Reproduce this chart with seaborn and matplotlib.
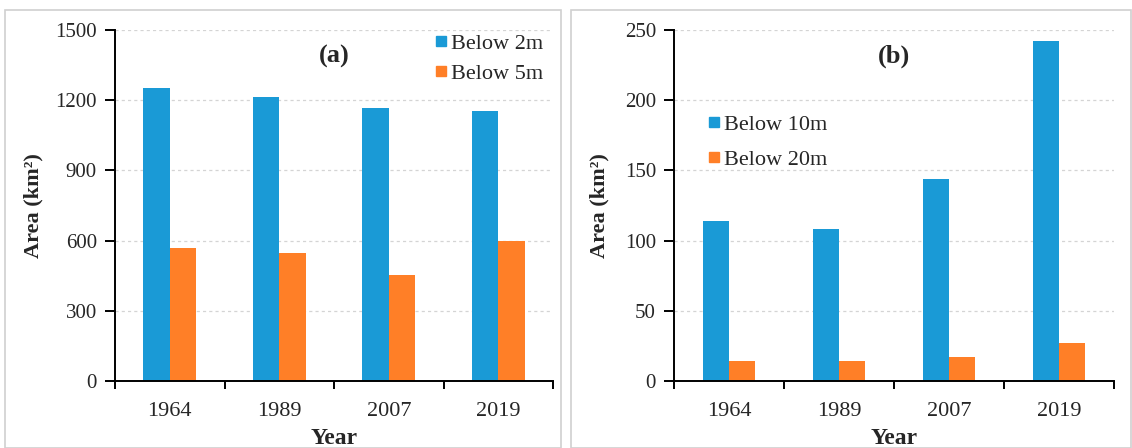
import matplotlib
matplotlib.use("Agg")
import matplotlib.pyplot as plt
import seaborn as sns
import pandas as pd
from matplotlib.patches import Rectangle
from matplotlib.lines import Line2D

# data
years = ["1964", "1989", "2007", "2019"]
below_2m = [1250, 1215, 1165, 1155]
below_5m = [570, 545, 455, 600]
below_10m = [114, 108, 144, 242]
below_20m = [14, 14, 17, 27]

blue = "#1A9AD6"
orange = "#FF7F27"

sns.set_style("white")
plt.rcParams["font.family"] = ["Liberation Serif", "DejaVu Serif"]

fig = plt.figure(figsize=(11.32, 4.48), dpi=100)

# light frames around each panel
fig.patches.append(Rectangle((5 / 1132, 0), 556 / 1132, 438 / 448, transform=fig.transFigure,
                             fill=False, edgecolor="#d0d0d0", linewidth=1.2))
fig.patches.append(Rectangle((571 / 1132, 0), 560 / 1132, 438 / 448, transform=fig.transFigure,
                             fill=False, edgecolor="#d0d0d0", linewidth=1.2))

ax_a = fig.add_axes([115 / 1132, 1 - 381 / 448, 438 / 1132, 351 / 448])
ax_b = fig.add_axes([674 / 1132, 1 - 381 / 448, 440 / 1132, 351 / 448])

panels = [
    (ax_a, below_2m, below_5m, "Below 2m", "Below 5m", 1500, 300, "(a)"),
    (ax_b, below_10m, below_20m, "Below 10m", "Below 20m", 250, 50, "(b)"),
]

for ax, s1, s2, n1, n2, ymax, step, tag in panels:
    df = pd.DataFrame({
        "Year": years * 2,
        "Area": s1 + s2,
        "Series": [n1] * len(years) + [n2] * len(years),
    })
    sns.barplot(data=df, x="Year", y="Area", hue="Series", palette=[blue, orange],
                width=0.48, gap=0, saturation=1, ax=ax, legend=False, edgecolor="none")

    ax.set_ylim(0, ymax)
    ax.set_xlim(-0.5, len(years) - 0.5)
    ax.set_yticks(range(0, ymax + 1, step))
    for y in range(step, ymax + 1, step):
        ax.axhline(y, color="#d4d4d4", linestyle=(0, (2.5, 2.5)), linewidth=0.9, zorder=0)

    for side in ["top", "right"]:
        ax.spines[side].set_visible(False)
    for side in ["left", "bottom"]:
        ax.spines[side].set_linewidth(1.4)
        ax.spines[side].set_color("black")

    # excel-style category ticks between groups
    ax.set_xticks([i - 0.5 for i in range(len(years) + 1)], minor=True)
    ax.tick_params(axis="x", which="major", length=0, labelsize=16, pad=15, bottom=False)
    ax.tick_params(axis="x", which="minor", length=6, width=1.4, direction="out",
                   color="black", bottom=True)
    ax.tick_params(axis="y", which="major", length=7, width=1.4, direction="out", color="black",
                   labelsize=15, left=True, pad=6)

    ax.set_xlabel("Year", fontsize=17, fontweight="bold")
    ax.set_ylabel("Area (km²)", fontsize=16, fontweight="bold")
    ax.xaxis.set_label_coords(0.5, -0.165)
    ax.xaxis.label.set_va("center")
    ax.yaxis.label.set_va("center")

    ax.text(0.5, 0.925, tag, transform=ax.transAxes, ha="center", va="center",
            fontsize=19, fontweight="bold")

    handles = [Line2D([], [], marker="s", linestyle="none", markersize=7.5,
                      markerfacecolor=c, markeredgecolor=c) for c in (blue, orange)]
    if tag == "(a)":
        ax.yaxis.set_label_coords(-0.185, 0.5)
        ax.legend(handles, [n1, n2], loc="upper left", bbox_to_anchor=(0.725, 0.99),
                  frameon=False, fontsize=16, handletextpad=0.05, handlelength=0.8,
                  labelspacing=0.4, borderpad=0, borderaxespad=0)
    else:
        ax.yaxis.set_label_coords(-0.17, 0.5)
        ax.legend(handles, [n1, n2], loc="upper left", bbox_to_anchor=(0.07, 0.76),
                  frameon=False, fontsize=16, handletextpad=0.05, handlelength=0.8,
                  labelspacing=0.65, borderpad=0, borderaxespad=0)

fig.savefig("out.png", dpi=100)
